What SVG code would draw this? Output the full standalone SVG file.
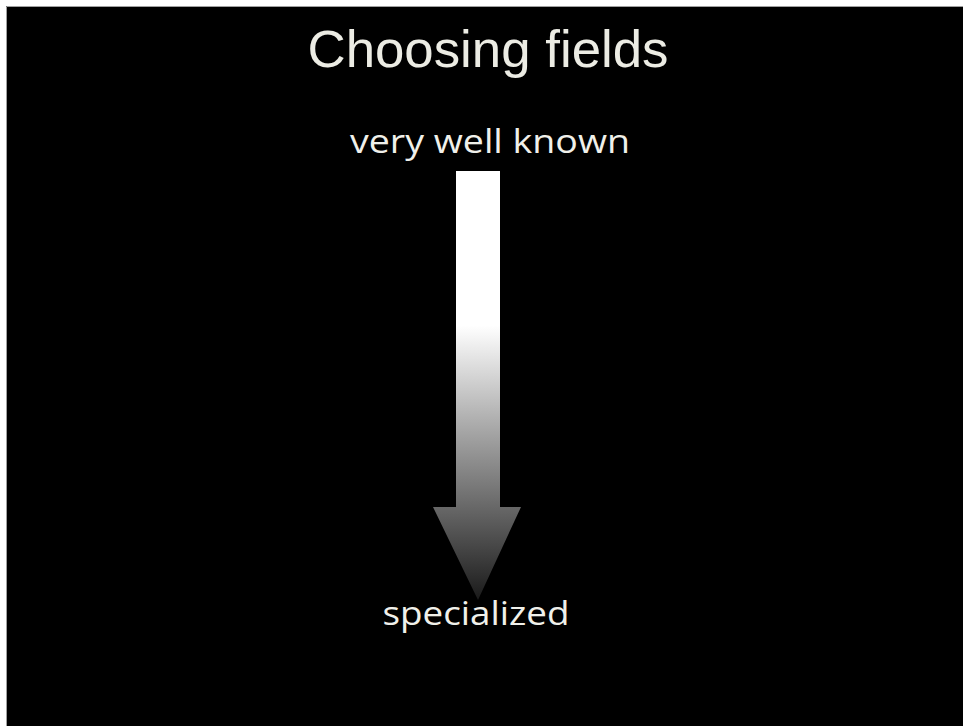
<svg xmlns="http://www.w3.org/2000/svg" width="963" height="726" viewBox="0 0 963 726">
<style>
.title{font-family:"Liberation Sans",Arial,sans-serif;font-size:52px;fill:#ecece4;}
.lbl{font-family:"Open Sans","Noto Sans",sans-serif;font-size:32px;fill:#f0f0ea;}
</style>
<defs>
<linearGradient id="ag" gradientUnits="userSpaceOnUse" x1="0" y1="171" x2="0" y2="600">
<stop offset="0" stop-color="#ffffff"/>
<stop offset="0.36" stop-color="#ffffff"/>
<stop offset="0.6" stop-color="#a8a8a8"/>
<stop offset="0.8" stop-color="#626262"/>
<stop offset="1" stop-color="#1a1a1a"/>
</linearGradient>
</defs>
<rect x="0" y="0" width="963" height="726" fill="#ffffff"/>
<rect x="6" y="6" width="957" height="720" fill="#000000"/>
<path d="M6.5 726 V6.5 H963" fill="none" stroke="#a0a0a0" stroke-width="1"/>
<g id="title"><text class="title" x="488" y="67" text-anchor="middle" textLength="361" lengthAdjust="spacingAndGlyphs">Choosing fields</text></g>
<g id="top-label"><text class="lbl" x="490" y="153" text-anchor="middle" textLength="280" lengthAdjust="spacingAndGlyphs">very well known</text></g>
<g id="connectors"><path id="arrow" d="M456 171 H500 V507 H521 L478 600 L433 507 H456 Z" fill="url(#ag)"/></g>
<g id="bottom-label"><text class="lbl" x="476" y="625" text-anchor="middle" textLength="187" lengthAdjust="spacingAndGlyphs">specialized</text></g>
</svg>
